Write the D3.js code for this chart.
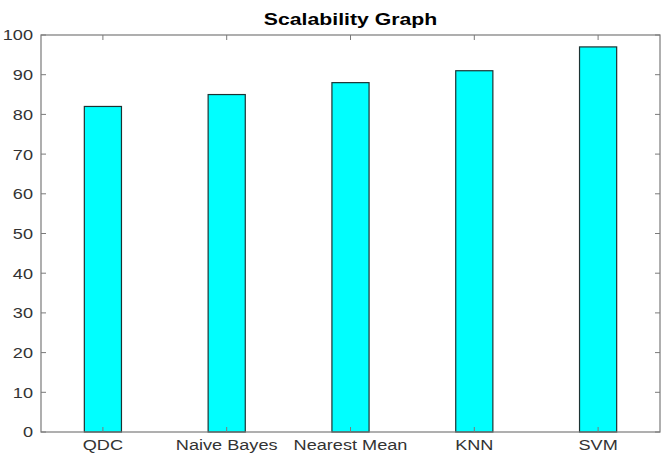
<!DOCTYPE html>
<html>
<head>
<meta charset="utf-8">
<script src="https://cdn.jsdelivr.net/npm/d3@7"></script>
<style>
  body { margin: 0; background: #fff; }
  text { font-family: "Liberation Sans", Arial, sans-serif; }
</style>
</head>
<body>
<svg id="chart" width="667" height="455"></svg>
<script>
// dades
const categories = ["QDC", "Naive Bayes", "Nearest Mean", "KNN", "SVM"];
const values = [82, 85, 88, 91, 97];
const yTicks = [0, 10, 20, 30, 40, 50, 60, 70, 80, 90, 100];

const svg = d3.select("#chart");
const margin = { top: 35, right: 7, bottom: 23, left: 41 };
const width = 667 - margin.left - margin.right;
const height = 455 - margin.top - margin.bottom;

// la imatge original esta una mica estirada en horitzontal
const stretch = 1.21;

const g = svg.append("g").attr("transform", `translate(${margin.left},${margin.top})`);

// escala x estil matlab: xlim [0.5, n+0.5]
const x = d3.scaleLinear().domain([0.5, categories.length + 0.5]).range([0, width]);
const y = d3.scaleLinear().domain([0, 100]).range([height, 0]);
const barW = x(1.3) - x(1);

// barres
g.selectAll("rect.bar")
  .data(values)
  .enter()
  .append("rect")
  .attr("class", "bar")
  .attr("x", (d, i) => x(i + 1) - barW / 2)
  .attr("y", d => y(d))
  .attr("width", barW)
  .attr("height", d => y(0) - y(d))
  .attr("fill", "#00ffff")
  .attr("stroke", "#1c3333")
  .attr("stroke-width", 1.2);

// caixa
const axisColor = "#7a7a7a";
g.append("rect")
  .attr("width", width)
  .attr("height", height)
  .attr("fill", "none")
  .attr("stroke", axisColor)
  .attr("stroke-width", 1.2);

// ticks y (esquerra i dreta, cap endins)
const tickLen = 5;
yTicks.forEach(t => {
  g.append("line").attr("x1", 0).attr("x2", tickLen).attr("y1", y(t)).attr("y2", y(t))
    .attr("stroke", axisColor);
  g.append("line").attr("x1", width - tickLen).attr("x2", width).attr("y1", y(t)).attr("y2", y(t))
    .attr("stroke", axisColor);
  g.append("text")
    .attr("transform", `translate(-8,${y(t)}) scale(${stretch},1)`)
    .attr("dy", "0.36em")
    .attr("text-anchor", "end")
    .style("font-size", "15px")
    .style("fill", "#333")
    .text(t);
});

// ticks x (dalt i baix)
categories.forEach((c, i) => {
  const cx = x(i + 1);
  g.append("line").attr("x1", cx).attr("x2", cx).attr("y1", height).attr("y2", height - tickLen)
    .attr("stroke", axisColor);
  g.append("line").attr("x1", cx).attr("x2", cx).attr("y1", 0).attr("y2", tickLen)
    .attr("stroke", axisColor);
  g.append("text")
    .attr("transform", `translate(${cx},${height + 18}) scale(${stretch},1)`)
    .attr("text-anchor", "middle")
    .style("font-size", "15px")
    .style("fill", "#333")
    .text(c);
});

// titol
svg.append("text")
  .attr("transform", `translate(${margin.left + width / 2},25) scale(1.25,1)`)
  .attr("text-anchor", "middle")
  .style("font-size", "17px")
  .style("font-weight", "bold")
  .style("fill", "#000")
  .text("Scalability Graph");
</script>
</body>
</html>
